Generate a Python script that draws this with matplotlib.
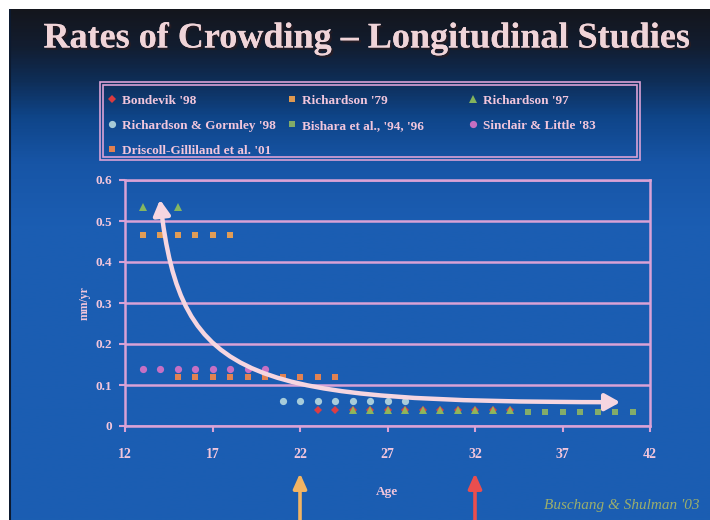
import numpy as np
import matplotlib
matplotlib.use("Agg")
import matplotlib.pyplot as plt
import matplotlib.patheffects as pe
from matplotlib.path import Path
from matplotlib.patches import FancyArrowPatch, Rectangle
from matplotlib.colors import LinearSegmentedColormap

# ---- data: rate of crowding (mm/yr) by age for each study ----
bondevik_age = [23, 24, 25, 26, 27, 28, 29, 30, 31, 32, 33, 34]
bondevik_val = [0.04] * len(bondevik_age)

richardson79_age = [13, 14, 15, 16, 17, 18]
richardson79_val = [0.465] * len(richardson79_age)

richardson97_age = [13, 15, 25, 26, 27, 28, 29, 30, 31, 32, 33, 34]
richardson97_val = [0.535, 0.535] + [0.04] * 10

gormley_age = [21, 22, 23, 24, 25, 26, 27, 28]
gormley_val = [0.06] * len(gormley_age)

bishara_age = [35, 36, 37, 38, 39, 40, 41]
bishara_val = [0.035] * len(bishara_age)

sinclair_age = [13, 14, 15, 16, 17, 18, 19, 20]
sinclair_val = [0.14] * len(sinclair_age)

driscoll_age = [15, 16, 17, 18, 19, 20, 21, 22, 23, 24]
driscoll_val = [0.12] * len(driscoll_age)

x_ticks = [12, 17, 22, 27, 32, 37, 42]
y_ticks = [0, 0.1, 0.2, 0.3, 0.4, 0.5, 0.6]
y_tick_labels = ["0", "0.1", "0.2", "0.3", "0.4", "0.5", "0.6"]

SERIF = ["Liberation Serif", "DejaVu Serif"]
PINK = "#f2c6dc"
GRID = "#d9a2d6"

fig = plt.figure(figsize=(7.1, 5.2), dpi=100)
fig.patch.set_facecolor("white")

# ---- slide background: dark navy fading into blue ----
bg = fig.add_axes([9 / 710, 0, 1 - 9 / 710, 1 - 9 / 520])
bg.set_axis_off()
cmap = LinearSegmentedColormap.from_list(
    "slide",
    [(0.0, "#14161d"), (0.07, "#121d30"), (0.14, "#0e2e58"),
     (0.21, "#0f4589"), (0.30, "#1755a6"), (0.42, "#1b5db2"), (1.0, "#1b5eb2")])
grad = np.linspace(0, 1, 400).reshape(-1, 1)
bg.imshow(grad, aspect="auto", cmap=cmap, extent=[0, 1, 0, 1], origin="upper")
bg.plot([0.001, 0.001], [0, 1], color="#0c1a30", lw=1.5)
bg.set_xlim(0, 1)
bg.set_ylim(0, 1)

# ---- title with a soft drop shadow ----
fig.text(367 / 710, 1 - 39 / 520, "Rates of Crowding \u2013 Longitudinal Studies",
         ha="center", va="center", fontsize=26, fontweight="bold",
         family=SERIF, color="#f0d4d8",
         path_effects=[pe.withSimplePatchShadow(offset=(1.5, -1.5),
                                                shadow_rgbFace="#2a1c22", alpha=0.8),
                       pe.Normal()])

# ---- chart ----
ax = fig.add_axes([125 / 710, 94 / 520, 525 / 710, 246 / 520])
ax.set_facecolor("none")
ax.set_xlim(12, 42)
ax.set_ylim(0, 0.6)

for spine in ax.spines.values():
    spine.set_color(GRID)
    spine.set_linewidth(1.8)
ax.yaxis.grid(True, color=GRID, linewidth=1.8)
ax.set_axisbelow(True)

ax.set_xticks(x_ticks)
ax.set_yticks(y_ticks)
ax.set_yticklabels(y_tick_labels)
ax.tick_params(axis="x", colors=GRID, labelcolor=PINK, direction="out",
               length=4, width=1.5, pad=12, labelsize=10)
ax.tick_params(axis="y", colors=GRID, labelcolor=PINK, direction="out",
               length=4, width=1.5, pad=5, labelsize=9.5)
for lab in ax.get_xticklabels() + ax.get_yticklabels():
    lab.set_family(SERIF)
    lab.set_fontweight("bold")

ax.set_xlabel("Age", family=SERIF, fontweight="bold", fontsize=9.5, color=PINK)
ax.xaxis.set_label_coords(0.5, -0.245)
ax.set_ylabel("mm/yr", family=SERIF, fontweight="bold", fontsize=8.5, color=PINK)
ax.yaxis.set_label_coords(-0.066, 0.5)

series = [
    ("Bondevik '98", bondevik_age, bondevik_val, "D", "#ee3b3b", 4.4),
    ("Richardson '79", richardson79_age, richardson79_val, "s", "#f2a24e", 4.8),
    ("Richardson & Gormley '98", gormley_age, gormley_val, "o", "#b4d6de", 5.2),
    ("Sinclair & Little '83", sinclair_age, sinclair_val, "o", "#d672c6", 5.2),
    ("Driscoll-Gilliland et al. '01", driscoll_age, driscoll_val, "s", "#f3864a", 4.8),
    ("Richardson '97", richardson97_age, richardson97_val, "^", "#8fbf5a", 5.4),
    ("Bishara et al., '94, '96", bishara_age, bishara_val, "s", "#8db464", 4.0),
]
handles = {}
for name, xs, ys, mk, col, ms in series:
    h, = ax.plot(xs, ys, linestyle="none", marker=mk, color=col,
                 markersize=ms, markeredgewidth=0, alpha=0.92, label=name, zorder=3)
    handles[name] = h

# ---- trend arrow sweeping from adolescence into adulthood ----
curve = Path([(40.3, 0.058), (19.0, 0.06), (15.2, 0.10), (14.0, 0.552)],
             [Path.MOVETO, Path.CURVE4, Path.CURVE4, Path.CURVE4])
trend = FancyArrowPatch(path=curve, arrowstyle="<|-|>,head_length=9,head_width=5",
                        color="#f6d6e0", lw=3.2, transform=ax.transData, zorder=4)
ax.add_patch(trend)

# ---- age markers below the axis ----
for age, col in [(22, "#f3b462"), (32, "#ea4e4e")]:
    ax.annotate("", xy=(age, -0.192), xycoords=("data", "axes fraction"),
                xytext=(age, -0.40), textcoords=("data", "axes fraction"),
                arrowprops=dict(arrowstyle="-|>,head_length=0.9,head_width=0.4",
                                color=col, lw=2.6, shrinkA=0, shrinkB=0),
                annotation_clip=False)

# ---- legend: three columns with a double frame ----
legend_cols = [
    (103, ["Bondevik '98", "Richardson & Gormley '98", "Driscoll-Gilliland et al. '01"]),
    (283, ["Richardson '79", "Bishara et al., '94, '96"]),
    (464, ["Richardson '97", "Sinclair & Little '83"]),
]
for x_left, names in legend_cols:
    leg = fig.legend([handles[k] for k in names], names, ncol=1,
                     loc="upper left", bbox_to_anchor=(x_left / 710, 1 - 89 / 520),
                     frameon=False, handlelength=0.6, handletextpad=0.45,
                     labelspacing=0.98, borderaxespad=0,
                     prop={"family": SERIF, "weight": "bold", "size": 9.5})
    for t in leg.get_texts():
        t.set_color(PINK)
for (x0, y0, w, h) in [(100, 82, 540, 78), (103, 85, 534, 72)]:
    fig.patches.append(Rectangle((x0 / 710, 1 - (y0 + h) / 520), w / 710, h / 520,
                                 transform=fig.transFigure, fill=False,
                                 edgecolor=GRID, lw=1.2))

# ---- source ----
fig.text(700 / 710, 1 - 506 / 520, "Buschang & Shulman '03", ha="right", va="center",
         family=SERIF, style="italic", fontsize=11, color="#9bae6c")

fig.savefig("out.png", dpi=100, facecolor="white")
